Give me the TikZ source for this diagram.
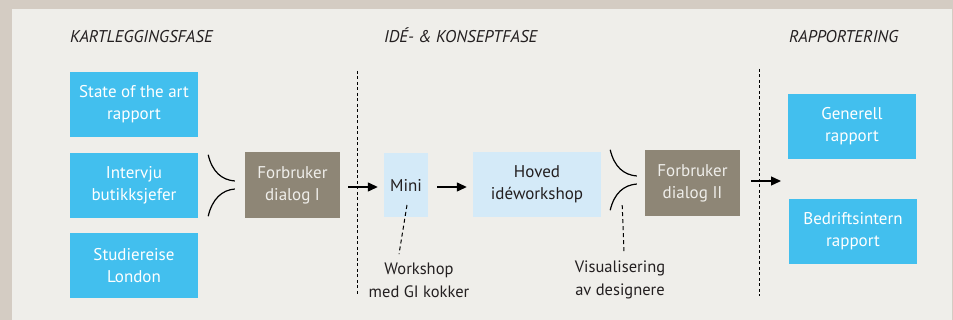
\documentclass[tikz,border=0pt]{standalone}
\usepackage{fontspec}
\setmainfont{PT Sans}
\usepackage{xcolor}
\usepackage{tikz}
\usetikzlibrary{positioning}
\usetikzlibrary{arrows.meta}

\definecolor{ramme}{HTML}{D4CCC3}
\definecolor{flate}{HTML}{EFEEEA}
\definecolor{cyan}{HTML}{42BFEE}
\definecolor{lysbla}{HTML}{D4EAF8}
\definecolor{grabrun}{HTML}{8E8676}
\definecolor{tekst}{HTML}{231F20}

\begin{document}
\begin{tikzpicture}[x=1pt, y=-1pt,
    boks/.style={minimum width=128pt, minimum height=65pt, inner sep=0pt,
        align=center, font=\fontsize{17}{22}\selectfont},
    kart/.style={boks, fill=cyan, text=white},
    dialog/.style={boks, fill=grabrun, text=flate, minimum width=95pt, minimum height=66pt},
    ide/.style={boks, fill=lysbla, text=tekst},
    fase/.style={anchor=base west, inner sep=0pt, font=\fontsize{17}{20}\itshape, text=tekst},
    merknad/.style={align=center, text=tekst, font=\fontsize{16.5}{23}\selectfont},
    pil/.style={line width=1.3pt, -{Triangle[length=10pt, width=9pt]}},
    krok/.style={line width=1.2pt},
    stiplet/.style={line width=1pt, dash pattern=on 4pt off 3pt}]

        % Bakgrunn
        \useasboundingbox (0,0) rectangle (953,320);
        \fill[ramme] (0,0) rectangle (953,320);
        \fill[flate] (12,9) rectangle (952,320);

        % Faser
        \node[fase] (f1) at (70,43) {KARTLEGGINGSFASE};
        \node[fase] (f2) at (384,43) {IDÉ- \& KONSEPTFASE};
        \node[fase] (f3) at (789,43) {RAPPORTERING};

        % Skillelinjer
        \draw[line width=1pt, dash pattern=on 3pt off 2.5pt] (357,71) -- (357,296);
        \draw[line width=1pt, dash pattern=on 3pt off 2.5pt] (759,69) -- (759,296);

        % Kartlegging
        \node[kart] (sota) at (134,104.5) {State of the art\\rapport};
        \node[kart] (intervju) at (134,185.5) {Intervju\\butikksjefer};
        \node[kart] (studie) at (134,265.5) {Studiereise\\London};
        \node[dialog] (fdI) at (292.5,185) {Forbruker\\dialog I};

        % Idé og konsept
        \node[ide, minimum width=44pt, minimum height=64pt] (mini) at (406,185) {Mini};
        \node[ide] (hoved) at (537,184.5) {Hoved\\idéworkshop};
        \node[dialog] (fdII) at (692.5,183) {Forbruker\\dialog II};

        % Rapportering
        \node[kart] (generell) at (852,126.5) {Generell\\rapport};
        \node[kart] (bedrift) at (853,231.5) {Bedriftsintern\\rapport};

        % Merknader
        \node[merknad] (ws) at (419,280) {Workshop\\med GI kokker};
        \node[merknad] (vis) at (620,280) {Visualisering\\av designere};

        % Kroker inn mot dialogene
        \draw[krok] ([shift={(10,2)}]intervju.north east) .. controls +(4,17) and +(-13,-1) .. ([shift={(-10,-4)}]fdI.west);
        \draw[krok] ([shift={(10,-2)}]intervju.south east) .. controls +(4,-17) and +(-13,1) .. ([shift={(-10,4)}]fdI.west);
        \draw[krok] ([shift={(9,-2)}]hoved.north east) .. controls +(4,17) and +(-13,-1) .. ([shift={(-8,-7)}]fdII.west);
        \draw[krok] ([shift={(9,-7)}]hoved.south east) .. controls +(4,-17) and +(-13,1) .. ([shift={(-8,1)}]fdII.west);

        % Piler
        \coordinate (ut) at (781,181);
        \draw[pil] ([xshift=8,yshift=-2]fdI.east) -- ([xshift=-6,yshift=-2]mini.west);
        \draw[pil] ([xshift=9,yshift=-2]mini.east) -- ([xshift=-6,yshift=-2.5]hoved.west);
        \draw[pil] ([xshift=11,yshift=2]fdII.east) -- (ut);

        % Stiplede merknadslinjer
        \draw[stiplet] ([shift={(1,20)}]mini.center) -- ([shift={(-20,-5)}]ws.north);
        \draw[stiplet] ([shift={(21,-12)}]hoved.south east) -- ([shift={(4,-5)}]vis.north);

    \end{tikzpicture}
\end{document}
